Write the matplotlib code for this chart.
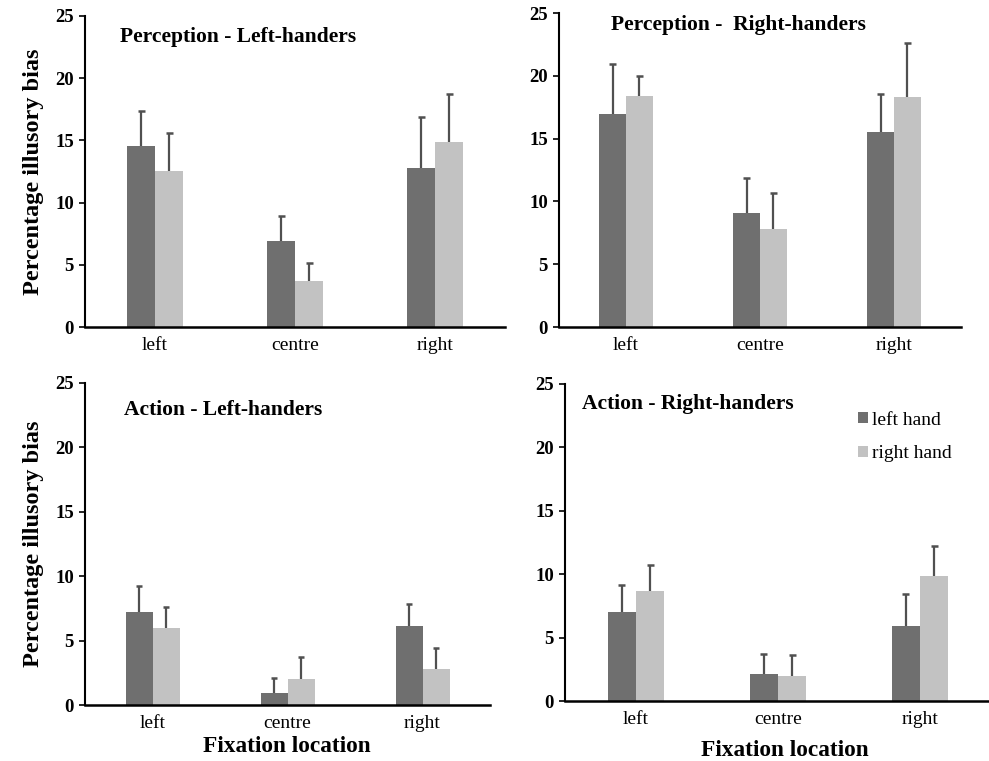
import matplotlib
matplotlib.use("Agg")
import matplotlib.pyplot as plt
import numpy as np

plt.rcParams['font.family'] = ['Liberation Serif', 'DejaVu Serif']

categories = ["left", "centre", "right"]
series_names = ["left hand", "right hand"]

# Perception - Left-handers
p_lh_left_hand = [14.54, 6.92, 12.8]
p_lh_left_hand_err = [2.82, 1.98, 4.05]
p_lh_right_hand = [12.53, 3.67, 14.9]
p_lh_right_hand_err = [3.03, 1.51, 3.82]

# Perception - Right-handers
p_rh_left_hand = [16.97, 9.04, 15.56]
p_rh_left_hand_err = [3.96, 2.85, 3.0]
p_rh_right_hand = [18.4, 7.77, 18.35]
p_rh_right_hand_err = [1.55, 2.92, 4.25]

# Action - Left-handers
a_lh_left_hand = [7.2, 0.96, 6.14]
a_lh_left_hand_err = [2.05, 1.16, 1.71]
a_lh_right_hand = [5.96, 2.05, 2.77]
a_lh_right_hand_err = [1.63, 1.65, 1.63]

# Action - Right-handers
a_rh_left_hand = [7.0, 2.13, 5.94]
a_rh_left_hand_err = [2.12, 1.6, 2.5]
a_rh_right_hand = [8.67, 2.0, 9.86]
a_rh_right_hand_err = [2.03, 1.6, 2.39]

yticks = [0, 5, 10, 15, 20, 25]

W, H = 989, 761
fig = plt.figure(figsize=(W / 100, H / 100), dpi=100)

def ax_at(x0, x1, ytop, ybot):
    return fig.add_axes([x0 / W, 1 - ybot / H, (x1 - x0) / W, (ybot - ytop) / H])

panels = [
    dict(box=(85, 505, 16, 327), title="Perception - Left-handers", tpos=(120, 37),
         d=p_lh_left_hand, de=p_lh_left_hand_err, l=p_lh_right_hand, le=p_lh_right_hand_err,
         ylabel=True, xlabel=None, legend=False),
    dict(box=(559, 961, 13, 327), title="Perception -  Right-handers", tpos=(611, 25),
         d=p_rh_left_hand, de=p_rh_left_hand_err, l=p_rh_right_hand, le=p_rh_right_hand_err,
         ylabel=False, xlabel=None, legend=False),
    dict(box=(85, 490, 383, 705), title="Action - Left-handers", tpos=(124, 410),
         d=a_lh_left_hand, de=a_lh_left_hand_err, l=a_lh_right_hand, le=a_lh_right_hand_err,
         ylabel=True, xlabel=(287, 747), legend=False),
    dict(box=(565, 991, 384, 701), title="Action - Right-handers", tpos=(582, 404),
         d=a_rh_left_hand, de=a_rh_left_hand_err, l=a_rh_right_hand, le=a_rh_right_hand_err,
         ylabel=False, xlabel=(785, 750), legend=True),
]

dark = "#6f6f6f"
light = "#c2c2c2"
ecol = "#505050"
w = 0.2
cap = 0.025
x = np.arange(len(categories))

def upper_err(ax, xs, vals, errs):
    vals = np.asarray(vals)
    tops = vals + np.asarray(errs)
    ax.vlines(xs, vals, tops, color=ecol, lw=1.6, zorder=1)
    ax.hlines(tops, xs - cap, xs + cap, color=ecol, lw=1.8, zorder=1)

for p in panels:
    x0, x1, yt, yb = p["box"]
    ax = ax_at(x0, x1, yt, yb)
    ax.bar(x - w / 2, p["d"], w, color=dark, label=series_names[0], zorder=2)
    ax.bar(x + w / 2, p["l"], w, color=light, label=series_names[1], zorder=2)
    upper_err(ax, x - w / 2, p["d"], p["de"])
    upper_err(ax, x + w / 2, p["l"], p["le"])
    ax.set_xlim(-0.5, 2.5)
    ax.set_ylim(0, 25)
    ax.set_yticks(yticks)
    ax.set_xticks(x)
    ax.set_xticklabels(categories, fontsize=14)
    ax.tick_params(axis="x", length=0, pad=7)
    ax.tick_params(axis="y", length=4, width=1.2, direction="out", labelsize=13.5, pad=4)
    for lbl in ax.get_yticklabels():
        lbl.set_fontweight("bold")
    for s in ["top", "right"]:
        ax.spines[s].set_visible(False)
    ax.spines["left"].set_linewidth(1.5)
    ax.spines["bottom"].set_linewidth(1.8)
    ax.patch.set_alpha(0)
    fig.text(p["tpos"][0] / W, 1 - p["tpos"][1] / H, p["title"], fontsize=15.5,
             fontweight="bold", ha="left", va="center")
    if p["ylabel"]:
        ax.set_ylabel("Percentage illusory bias", fontsize=17.5, fontweight="bold", labelpad=8)
    if p["xlabel"]:
        fig.text(p["xlabel"][0] / W, 1 - p["xlabel"][1] / H, "Fixation location",
                 fontsize=16.8, fontweight="bold", ha="center", va="center")
    if p["legend"]:
        ax.legend(loc="upper left", bbox_to_anchor=(0.67, 0.937), frameon=False,
                  handlelength=0.5, handleheight=0.5, handletextpad=0.2,
                  fontsize=14, labelspacing=0.86, borderaxespad=0)

fig.savefig("out.png", dpi=100)
